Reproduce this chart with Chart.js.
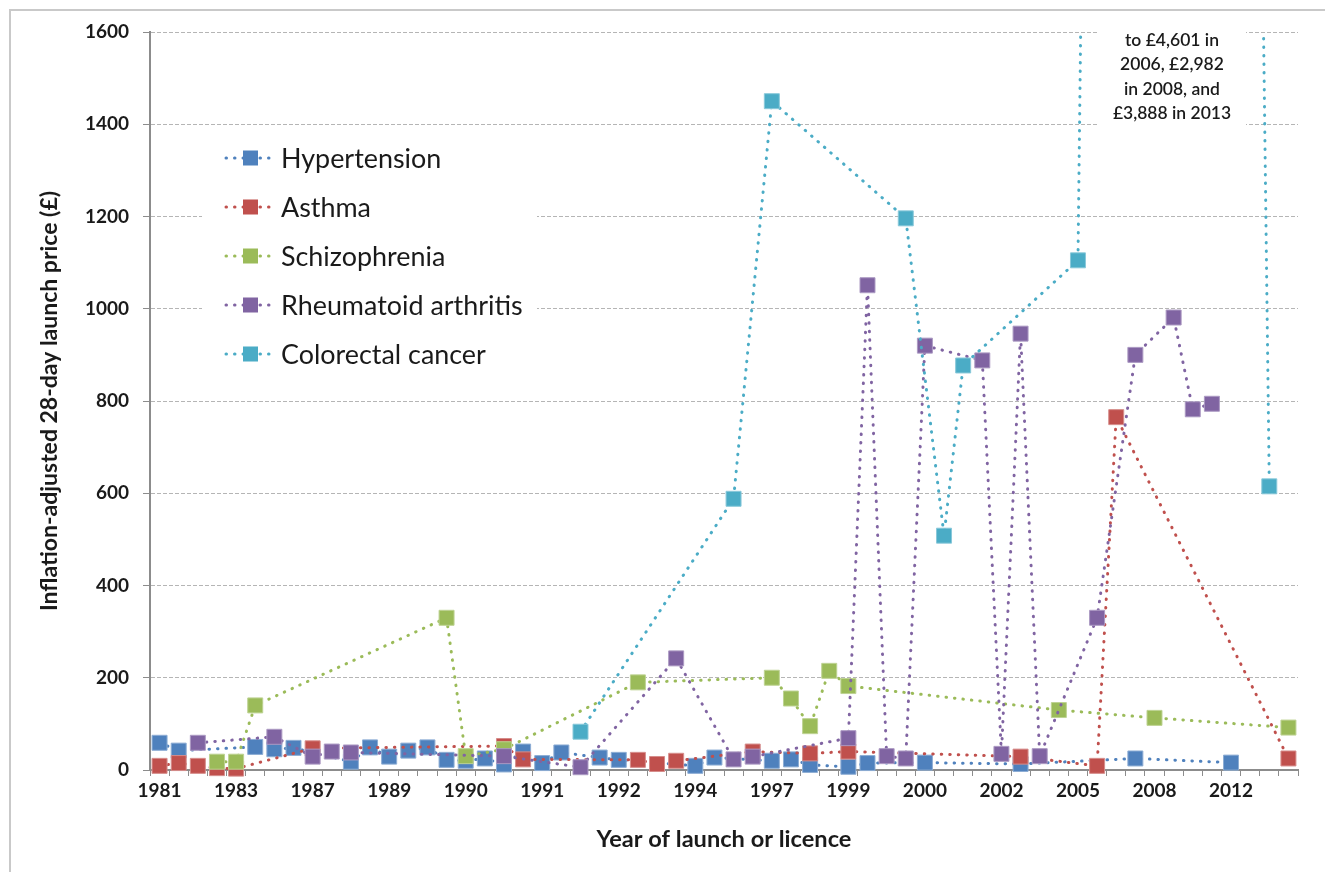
<!DOCTYPE html>
<html><head><meta charset="utf-8">
<script src="https://cdn.jsdelivr.net/npm/chart.js@4.4.1/dist/chart.umd.min.js"></script>
<style>
html,body{margin:0;padding:0;background:#fff;overflow:hidden;}
#wrap{position:relative;width:1325px;height:872px;overflow:hidden;}
#frame{position:absolute;left:9px;top:9px;width:1400px;height:1000px;border:2px solid #c9c9c9;box-sizing:border-box;}
canvas{position:absolute;left:0;top:0;}
</style></head><body>
<div id="wrap"><div id="frame"></div><canvas id="c" width="1325" height="872"></canvas></div>
<script>
// ---- data (category index = drug, in launch order; value = £) ----
const yearLabels = ['1981','1983','1987','1989','1990','1991','1992','1994','1997','1999','2000','2002','2005','2008','2012'];
const categoryCount = 60;
const labelEvery = 4;

const hypertension = [[0,59],[1,42],[5,50],[6,45],[7,48],[10,18],[11,49],[12,29],[13,42],[14,49],[15,22],[16,20],[17,25],[18,12],[19,40],[20,15],[21,38],[23,27],[24,22],[28,9],[29,27],[32,20],[33,23],[34,11],[36,7],[37,15],[40,16],[45,13],[51,25],[56,16]];
const asthma = [[0,9],[1,15],[2,9],[3,4],[4,3],[8,47],[18,52],[19,23],[25,22],[26,13],[27,20],[31,40],[34,36],[36,40],[45,29],[49,9],[50,765],[59,25]];
const schizophrenia = [[3,18],[4,18],[5,140],[15,330],[16,30],[18,45],[25,190],[32,200],[33,155],[34,95],[35,215],[36,182],[47,130],[52,113],[59,92]];
const rheumatoid = [[2,59],[6,72],[8,29],[9,40],[10,38],[18,30],[22,6],[27,242],[30,23],[31,29],[36,69],[37,1051],[38,30],[39,25],[40,920],[43,888],[44,35],[45,946],[46,30],[49,330],[51,900],[53,981],[54,782],[55,794]];
const colorectal = [[22,83],[30,588],[32,1450],[39,1196],[41,508],[42,877],[48,1105],[49,4601],[52,2982],[57,3888],[58,615]];

const seriesNames = ['Hypertension','Asthma','Schizophrenia','Rheumatoid arthritis','Colorectal cancer'];
const seriesColors = ['#4F81BD','#C0504D','#9BBB59','#8064A2','#4BACC6'];
const annotationLines = ['to \u00A34,601 in','2006, \u00A32,982','in 2008, and','\u00A33,888 in 2013'];
const yTitle = 'Inflation-adjusted 28-day launch price (\u00A3)';
const xTitle = 'Year of launch or licence';

// ---- helpers ----
const FAMILY = 'Lato, "Noto Sans", sans-serif';
function fitSize(text, weight, target) {
  const c = document.createElement('canvas').getContext('2d');
  c.font = weight + ' 100px ' + FAMILY;
  return Math.round(1000 * target / c.measureText(text).width) / 10;
}
const tickSize = fitSize('1981', 'bold', 44);
const yTitleSize = fitSize(yTitle, 'bold', 420);
const xTitleSize = fitSize(xTitle, 'bold', 255);
const legendSize = fitSize('Rheumatoid arthritis', 'normal', 242);
const noteSize = fitSize('\u00A33,888 in 2013', '600', 118);

const toSeries = pairs => { const a = new Array(categoryCount).fill(null); pairs.forEach(p => { a[p[0]] = p[1]; }); return a; };
const categories = Array.from({length: categoryCount}, (_, i) => (i % labelEvery === 0 ? yearLabels[i / labelEvery] : ''));

function lighten(hex, f) {
  const n = parseInt(hex.slice(1), 16);
  const r = (n >> 16) & 255, g = (n >> 8) & 255, b = n & 255;
  const m = v => Math.round(v + (255 - v) * f);
  return 'rgb(' + m(r) + ',' + m(g) + ',' + m(b) + ')';
}
const DOT = [0.5, 8];
function ds(idx, pairs) {
  const color = seriesColors[idx];
  return {
    label: seriesNames[idx], data: toSeries(pairs),
    borderColor: color, backgroundColor: color, borderWidth: 3,
    borderDash: DOT, borderCapStyle: 'round', tension: 0, spanGaps: true,
    pointStyle: 'rect', pointRadius: 10.6, pointHoverRadius: 10.6,
    pointBackgroundColor: color, pointBorderColor: lighten(color, 0.35), pointBorderWidth: 1,
    order: 5 - idx,
    clip: {left: 15, right: 15, top: 0, bottom: 15}
  };
}

const insideLegend = {
  id: 'insideLegend',
  beforeDatasetsDraw(chart) {
    const ctx = chart.ctx;
    ctx.save();
    ctx.fillStyle = '#ffffff';
    ctx.fillRect(202, 134, 335, 244);
    ctx.fillRect(1098, 24, 148, 108);
    ctx.restore();
  },
  afterDatasetsDraw(chart) {
    const ctx = chart.ctx;
    ctx.save();
    seriesNames.forEach((name, i) => {
      const y = 158 + 49 * i;
      const c = seriesColors[i];
      ctx.strokeStyle = c; ctx.lineWidth = 3; ctx.lineCap = 'round'; ctx.setLineDash(DOT);
      ctx.beginPath(); ctx.moveTo(226, y); ctx.lineTo(274, y); ctx.stroke();
      ctx.setLineDash([]);
      ctx.fillStyle = c; ctx.fillRect(243, y - 7.5, 15, 15);
      ctx.fillStyle = '#1a1a1a';
      ctx.font = 'normal ' + legendSize + 'px ' + FAMILY;
      ctx.textBaseline = 'middle'; ctx.textAlign = 'left';
      ctx.fillText(name, 281, y + 1);
    });
    ctx.font = '600 ' + noteSize + 'px ' + FAMILY;
    ctx.textAlign = 'center'; ctx.textBaseline = 'middle'; ctx.fillStyle = '#1a1a1a';
    annotationLines.forEach((t, i) => ctx.fillText(t, 1172, 40 + 24.5 * i));
    ctx.restore();
  }
};

Chart.defaults.font.family = FAMILY;
new Chart(document.getElementById('c'), {
  type: 'line',
  data: {
    labels: categories,
    datasets: [ds(0, hypertension), ds(1, asthma), ds(2, schizophrenia), ds(3, rheumatoid), ds(4, colorectal)]
  },
  options: {
    responsive: false, animation: false, events: [],
    layout: {padding: {left: 10, top: 32, right: 27, bottom: 0}},
    plugins: {legend: {display: false}, tooltip: {enabled: false}},
    scales: {
      x: {
        type: 'category', offset: true,
        grid: {display: true, drawOnChartArea: false, drawTicks: true, tickLength: 6, offset: true, color: '#8c8c8c', tickColor: '#8c8c8c', tickWidth: 1},
        border: {display: true, color: '#8c8c8c', width: 2},
        ticks: {autoSkip: false, maxRotation: 0, minRotation: 0, padding: 3, color: '#1a1a1a', font: {size: tickSize, weight: 'bold'}},
        title: {display: true, text: xTitle, color: '#1a1a1a', font: {size: xTitleSize, weight: 'bold'}, padding: {top: 0, bottom: 18}},
        afterFit(s) { s.height = 102; }
      },
      y: {
        min: 0, max: 1600,
        ticks: {stepSize: 200, padding: 14, color: '#1a1a1a', font: {size: tickSize, weight: 'bold'}, callback: v => String(v)},
        grid: {color: c => (c.tick && c.tick.value === 0 ? 'rgba(0,0,0,0)' : '#b5b5b5'), lineWidth: 1, drawTicks: true, tickLength: 7, tickColor: '#8c8c8c', tickWidth: 1, tickBorderDash: []},
        border: {display: true, color: '#8c8c8c', width: 2, dash: [4, 2]},
        title: {display: true, text: yTitle, color: '#1a1a1a', font: {size: yTitleSize, weight: 'bold'}, padding: {top: 26, bottom: 0}},
        afterFit(s) { s.width = 140; }
      }
    }
  },
  plugins: [insideLegend]
});
</script>
</body></html>
